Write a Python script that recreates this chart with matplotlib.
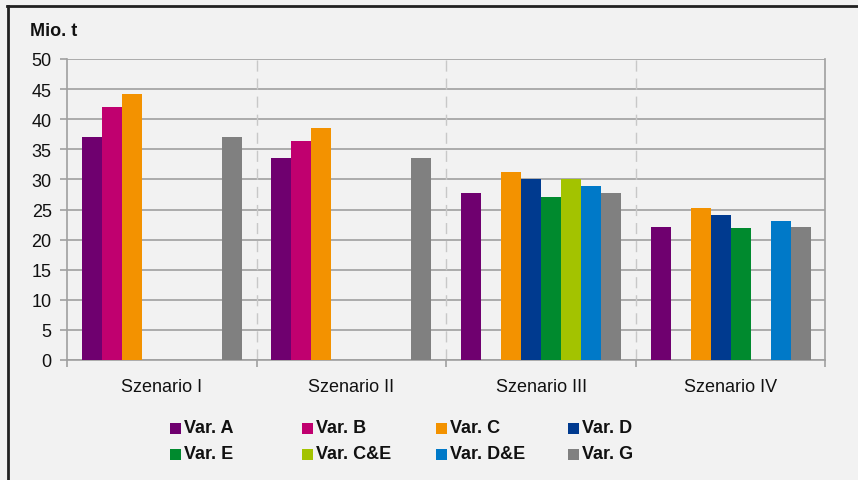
import numpy as np
import matplotlib
matplotlib.use("Agg")
import matplotlib.pyplot as plt
from matplotlib.patches import Rectangle

plt.rcParams['font.family'] = ['Liberation Sans', 'DejaVu Sans']

categories = ["Szenario I", "Szenario II", "Szenario III", "Szenario IV"]
series_names = ["Var. A", "Var. B", "Var. C", "Var. D", "Var. E", "Var. C&E", "Var. D&E", "Var. G"]
nan = np.nan
var_a = [37.1, 33.6, 27.7, 22.1]
var_b = [42.0, 36.4, nan, nan]
var_c = [44.2, 38.5, 31.2, 25.2]
var_d = [nan, nan, 30.1, 24.1]
var_e = [nan, nan, 27.1, 21.9]
var_ce = [nan, nan, 30.1, nan]
var_de = [nan, nan, 28.9, 23.1]
var_g = [37.1, 33.6, 27.7, 22.1]
series_values = [var_a, var_b, var_c, var_d, var_e, var_ce, var_de, var_g]
colors = ["#6f006f", "#c0006f", "#f39200", "#003a8f", "#008a2e", "#a3c300", "#0079c8", "#808080"]
yticks = [0, 5, 10, 15, 20, 25, 30, 35, 40, 45, 50]

W, H = 858, 481
fig = plt.figure(figsize=(W / 100, H / 100), dpi=100)
fig.patch.set_facecolor("#f2f2f2")

ax = fig.add_axes([67 / W, 1 - 361 / H, (825.5 - 67) / W, (361 - 60) / H])
ax.set_facecolor("#f2f2f2")

x = np.arange(len(categories))
w = 0.1055
for j, (vals, c, name) in enumerate(zip(series_values, colors, series_names)):
    ax.bar(x + (j - 3.5) * w, vals, width=w, color=c, label=name, zorder=3, linewidth=0)

ax.set_xlim(-0.5, len(categories) - 0.5)
ax.set_ylim(0, 50)
ax.set_yticks(yticks)
ax.set_yticklabels([str(v) for v in yticks], fontsize=13, color="#111111")
ax.yaxis.grid(True, color="#a0a0a0", linewidth=1.2, zorder=1)
ax.set_axisbelow(True)

# separators between categories
for b in np.arange(0.5, len(categories) - 0.5, 1.0):
    ax.axvline(b, color="#c8c8c8", linewidth=1.0, linestyle=(0, (8, 5)), zorder=1)

ax.set_xticks(x)
ax.set_xticklabels(categories, fontsize=13, color="#111111")
ax.tick_params(axis="x", length=0, pad=13)
ax.set_xticks(np.arange(-0.5, len(categories), 1.0), minor=True)
ax.tick_params(axis="x", which="minor", length=5, color="#a0a0a0", width=1.2)
ax.tick_params(axis="y", length=5, color="#a0a0a0", width=1.2, pad=6)

for s in ["left", "right", "bottom"]:
    ax.spines[s].set_color("#a0a0a0")
    ax.spines[s].set_linewidth(1.2)
ax.spines["top"].set_visible(False)

fig.text(30 / W, 1 - 32 / H, "Mio. t", fontsize=13, fontweight="bold", va="center", ha="left", color="#111111")

# legend (manual grid, 4 columns x 2 rows)
col_x = [170, 302, 436, 568]
row_y = [429, 455]
for i, (name, c) in enumerate(zip(series_names, colors)):
    cx = col_x[i % 4]
    cy = row_y[i // 4]
    fig.add_artist(Rectangle((cx / W, 1 - (cy + 5.5) / H), 11 / W, 11 / H,
                             transform=fig.transFigure, facecolor=c, edgecolor="none"))
    fig.text((cx + 14) / W, 1 - cy / H, name, fontsize=13, fontweight="bold",
             va="center", ha="left", color="#111111")

# outer frame (top and left visible)
fig.add_artist(plt.Line2D([7 / W, 1.0], [1 - 6.5 / H, 1 - 6.5 / H], transform=fig.transFigure,
                          color="#222222", linewidth=2))
fig.add_artist(plt.Line2D([7.5 / W, 7.5 / W], [0, 1 - 6.5 / H], transform=fig.transFigure,
                          color="#222222", linewidth=2))

fig.savefig("out.png", dpi=100, facecolor=fig.get_facecolor())
